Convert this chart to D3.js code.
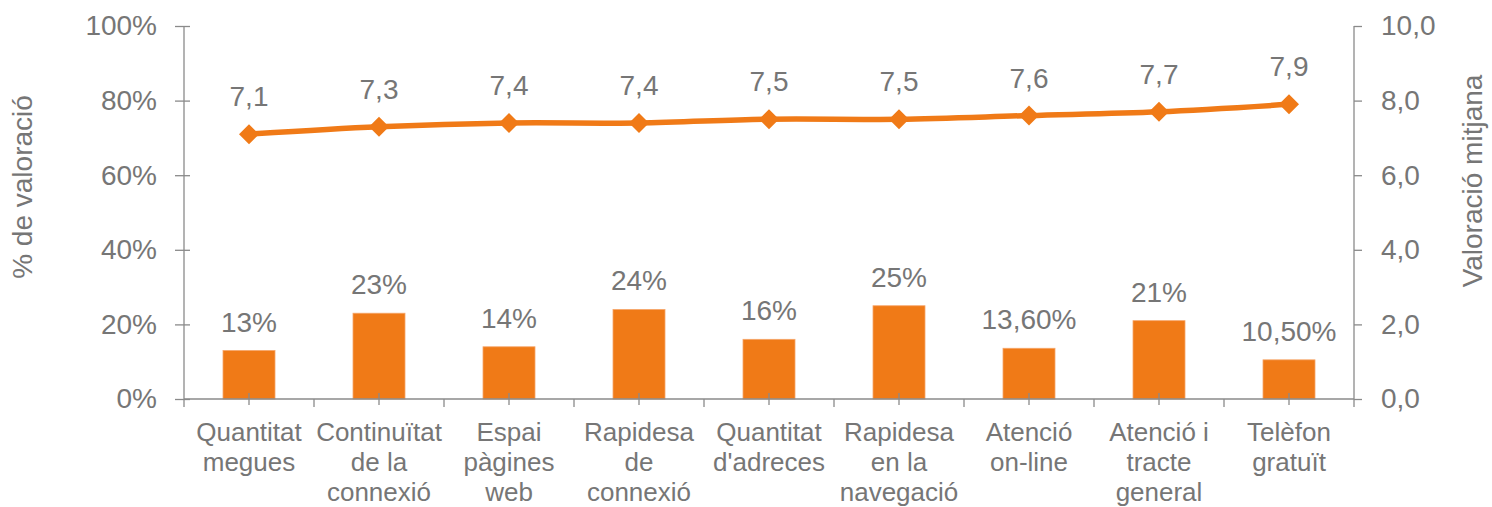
<!DOCTYPE html>
<html>
<head>
<meta charset="utf-8">
<script src="https://cdn.jsdelivr.net/npm/d3@7"></script>
<style>
  html, body { margin: 0; padding: 0; background: #ffffff; }
  svg { display: block; }
  text { font-family: "Liberation Sans", Arial, sans-serif; }
</style>
</head>
<body>
<svg id="chart" width="1492" height="507"></svg>
<script>
// Categories (multi-line labels) and the two series
const categories = [
  ["Quantitat", "megues"],
  ["Continuïtat", "de la", "connexió"],
  ["Espai", "pàgines", "web"],
  ["Rapidesa", "de", "connexió"],
  ["Quantitat", "d'adreces"],
  ["Rapidesa", "en la", "navegació"],
  ["Atenció", "on-line"],
  ["Atenció i", "tracte", "general"],
  ["Telèfon", "gratuït"]
];
const pctValues = [0.13, 0.23, 0.14, 0.24, 0.16, 0.25, 0.136, 0.21, 0.105];
const pctLabels = ["13%", "23%", "14%", "24%", "16%", "25%", "13,60%", "21%", "10,50%"];
const meanValues = [7.1, 7.3, 7.4, 7.4, 7.5, 7.5, 7.6, 7.7, 7.9];
const leftTicks = [0, 0.2, 0.4, 0.6, 0.8, 1.0];
const rightTicks = [0, 2, 4, 6, 8, 10];

const orange = "#F07A17";
const textGrey = "#767676";
const axisGrey = "#8a8a8a";

const svg = d3.select("#chart");
const plotLeft = 184, plotRight = 1354, plotTop = 26, plotBottom = 399;

const x = d3.scaleBand()
  .domain(d3.range(categories.length))
  .range([plotLeft, plotRight])
  .paddingInner(0.6)
  .paddingOuter(0.3);
const xCenter = i => x(i) + x.bandwidth() / 2;
const step = (plotRight - plotLeft) / categories.length;

const yL = d3.scaleLinear().domain([0, 1]).range([plotBottom, plotTop]);
const yR = d3.scaleLinear().domain([0, 10]).range([plotBottom, plotTop]);

// Bars
svg.append("g").selectAll("rect")
  .data(pctValues)
  .join("rect")
  .attr("x", (d, i) => x(i))
  .attr("width", x.bandwidth())
  .attr("y", d => yL(d))
  .attr("height", d => yL(0) - yL(d))
  .attr("fill", orange)
  .attr("stroke", "#f6a66a")
  .attr("stroke-width", 0.8);

// Left axis
const leftAxis = svg.append("g")
  .attr("transform", `translate(${plotLeft},0)`)
  .call(d3.axisLeft(yL).tickValues(leftTicks)
    .tickFormat(d => Math.round(d * 100) + "%")
    .tickSize(9).tickPadding(18));
leftAxis.selectAll(".tick line").clone().attr("x2", 6);

// Right axis
const rightAxis = svg.append("g")
  .attr("transform", `translate(${plotRight},0)`)
  .call(d3.axisRight(yR).tickValues(rightTicks)
    .tickFormat(d => d3.format(".1f")(d).replace(".", ","))
    .tickSize(8).tickPadding(19));

// Bottom axis: boundary ticks and centre ticks
const bottomAxis = svg.append("g")
  .attr("transform", `translate(0,${plotBottom})`);
bottomAxis.append("line")
  .attr("x1", plotLeft).attr("x2", plotRight)
  .attr("stroke", axisGrey).attr("stroke-width", 1.3);
bottomAxis.selectAll("line.bound")
  .data(d3.range(categories.length + 1))
  .join("line").attr("class", "bound")
  .attr("x1", i => plotLeft + i * step).attr("x2", i => plotLeft + i * step)
  .attr("y1", 0).attr("y2", 8)
  .attr("stroke", axisGrey).attr("stroke-width", 1.3);
bottomAxis.selectAll("line.mid")
  .data(d3.range(categories.length))
  .join("line").attr("class", "mid")
  .attr("x1", i => xCenter(i)).attr("x2", i => xCenter(i))
  .attr("y1", -6).attr("y2", 6)
  .attr("stroke", axisGrey).attr("stroke-width", 1.3);

[leftAxis, rightAxis].forEach(g => {
  g.select(".domain").attr("stroke", axisGrey).attr("stroke-width", 1.3);
  g.selectAll(".tick line").attr("stroke", axisGrey).attr("stroke-width", 1.3);
  g.selectAll(".tick text").attr("fill", textGrey).attr("font-size", 28)
    .attr("font-family", "'Liberation Sans', Arial, sans-serif");
});
leftAxis.select(".domain").attr("d", `M0,${plotTop}V${plotBottom}`);
rightAxis.select(".domain").attr("d", `M0,${plotTop}V${plotBottom}`);

// Category labels
const catG = svg.append("g");
categories.forEach((lines, i) => {
  const t = catG.append("text")
    .attr("text-anchor", "middle")
    .attr("fill", textGrey)
    .attr("font-size", 26)
    .attr("x", xCenter(i))
    .attr("y", 441);
  lines.forEach((ln, k) => {
    t.append("tspan").attr("x", xCenter(i)).attr("dy", k === 0 ? 0 : 30).text(ln);
  });
});

// Bar value labels
svg.append("g").selectAll("text")
  .data(pctValues)
  .join("text")
  .attr("x", (d, i) => xCenter(i))
  .attr("y", d => yL(d) - 19)
  .attr("text-anchor", "middle")
  .attr("fill", textGrey)
  .attr("font-size", 28)
  .text((d, i) => pctLabels[i]);

// Mean rating line
const line = d3.line()
  .x((d, i) => xCenter(i))
  .y(d => yR(d))
  .curve(d3.curveCatmullRom.alpha(0.5));
svg.append("path")
  .datum(meanValues)
  .attr("d", line)
  .attr("fill", "none")
  .attr("stroke", orange)
  .attr("stroke-width", 5.5);

svg.append("g").selectAll("path")
  .data(meanValues)
  .join("path")
  .attr("transform", (d, i) => `translate(${xCenter(i)},${yR(d)})`)
  .attr("d", "M0,-10L10,0L0,10L-10,0Z")
  .attr("fill", orange);

svg.append("g").selectAll("text")
  .data(meanValues)
  .join("text")
  .attr("x", (d, i) => xCenter(i))
  .attr("y", d => yR(d) - 28)
  .attr("text-anchor", "middle")
  .attr("fill", textGrey)
  .attr("font-size", 28)
  .text(d => d3.format(".1f")(d).replace(".", ","));

// Axis titles
svg.append("text")
  .attr("transform", `translate(32,187) rotate(-90)`)
  .attr("text-anchor", "middle")
  .attr("fill", textGrey)
  .attr("font-size", 28)
  .text("% de valoració");
svg.append("text")
  .attr("transform", `translate(1482,181) rotate(-90)`)
  .attr("text-anchor", "middle")
  .attr("fill", textGrey)
  .attr("font-size", 28)
  .text("Valoració mitjana");
</script>
</body>
</html>
